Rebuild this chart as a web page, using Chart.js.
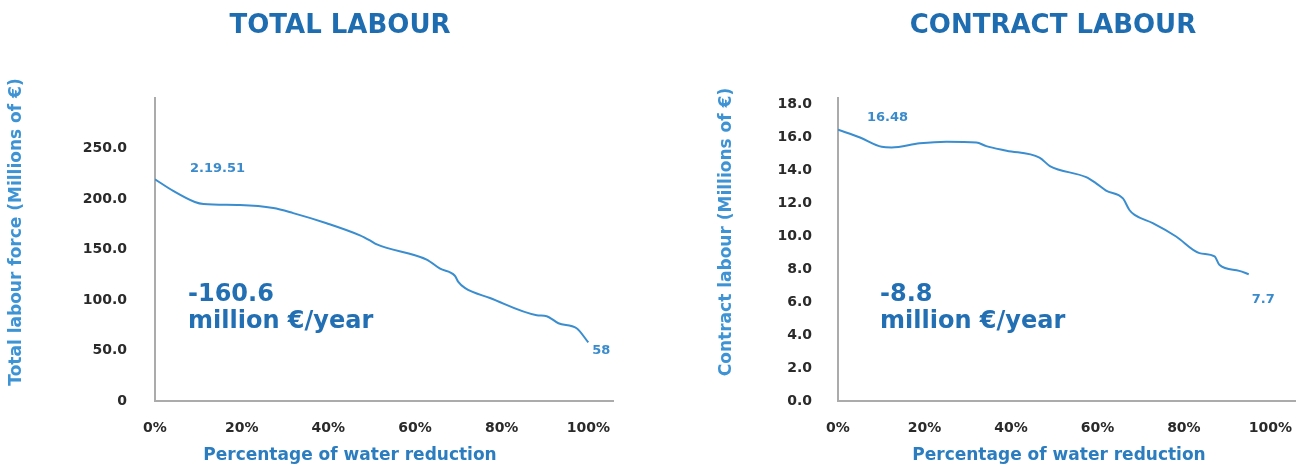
<!DOCTYPE html>
<html>
<head>
<meta charset="utf-8">
<script src="https://cdn.jsdelivr.net/npm/chart.js@4.4.1/dist/chart.umd.min.js"></script>
<style>
  html, body { margin: 0; padding: 0; background: #fff; }
  #wrap { position: relative; width: 1309px; height: 466px; }
  .panel { position: absolute; top: 0; height: 466px; }
</style>
</head>
<body>
<div id="wrap">
  <div class="panel" style="left:0;width:654px"><canvas id="total"></canvas></div>
  <div class="panel" style="left:654px;width:655px"><canvas id="contract"></canvas></div>
</div>
<script>
// labour cost (millions of €) against percentage of water reduction
const totalPct = [0, 4.2, 9.2, 11.2, 19.6, 27.3, 31.9, 39.6, 47.3, 49.6, 51.2, 62.7, 65.8, 69.2, 70, 71.5, 77.3, 88.1, 90.4, 93.1, 97.3, 100];
const totalLabour = [219.51, 208, 197, 195, 194, 191, 186, 176, 164, 159, 155, 140, 131, 124, 118, 112, 102, 85, 84, 77, 72, 58];

const contractPct = [0, 5.1, 10.1, 12.4, 18.9, 25.1, 32, 34.3, 39, 46.6, 49, 57.4, 59.7, 62, 65.9, 67.4, 68.6, 72.8, 78.2, 83.6, 87.1, 88.2, 92.8, 95];
const contractLabour = [16.48, 16.0, 15.44, 15.4, 15.65, 15.75, 15.7, 15.48, 15.2, 14.78, 14.27, 13.59, 13.22, 12.78, 12.3, 11.6, 11.3, 10.8, 9.99, 8.98, 8.78, 8.27, 7.9, 7.7];

const xTicks = [0, 20, 40, 60, 80, 100];
const totalTicks = [0, 50, 100, 150, 200, 250];
const contractTicks = [0, 2, 4, 6, 8, 10, 12, 14, 16, 18];

const FONT = '"DejaVu Sans", sans-serif';

// headings, axis titles, end values and the yearly change
const panelText = {
    id: 'panelText',
    afterDraw(chart, args, o) {
        const ctx = chart.ctx;
        const a = chart.chartArea;
        const xs = chart.scales.x, ys = chart.scales.y;
        const pts = chart.data.datasets[0].data;
        const first = pts[0], last = pts[pts.length - 1];

        ctx.save();
        ctx.textBaseline = 'middle';
        ctx.textAlign = 'center';

        ctx.fillStyle = '#1f6db1';
        ctx.font = 'bold 26px ' + FONT;
        ctx.fillText(o.title, o.titleX, 26);

        ctx.fillStyle = '#2b7dc0';
        ctx.font = 'bold 17px ' + FONT;
        ctx.fillText(o.xTitle, o.xTitleX, 456);

        ctx.save();
        ctx.translate(o.yTitleX, 232);
        ctx.rotate(-Math.PI / 2);
        ctx.fillStyle = '#3d93d4';
        ctx.font = 'bold 17px ' + FONT;
        ctx.fillText(o.yTitle, 0, 0);
        ctx.restore();

        ctx.textAlign = 'left';
        ctx.fillStyle = '#3a8bcc';
        ctx.font = 'bold 13px ' + FONT;
        ctx.fillText(o.startLabel, xs.getPixelForValue(first.x) + o.startDx, ys.getPixelForValue(first.y) + o.startDy);
        ctx.fillText(o.endLabel, xs.getPixelForValue(last.x) + o.endDx, ys.getPixelForValue(last.y) + o.endDy);

        ctx.fillStyle = '#2270b3';
        ctx.font = 'bold 24px ' + FONT;
        ctx.fillText(o.change, a.left + o.changeDx, 295);
        ctx.fillText('million €/year', a.left + o.changeDx, 322);
        ctx.restore();
    }
};

function makeChart(id, pct, values, cfg) {
    return new Chart(document.getElementById(id), {
        type: 'line',
        data: {
            datasets: [{
                data: pct.map((p, i) => ({ x: p, y: values[i] })),
                borderColor: '#3a8dcf',
                borderWidth: 2,
                pointRadius: 0,
                cubicInterpolationMode: 'monotone',
                fill: false
            }]
        },
        options: {
            responsive: true,
            maintainAspectRatio: false,
            animation: false,
            events: [],
            layout: { padding: { top: 98, right: cfg.padRight, left: 0, bottom: 0 } },
            scales: {
                x: {
                    type: 'linear',
                    min: 0,
                    max: 105.7,
                    grid: { display: false },
                    border: { display: true, color: '#ababab', width: 2 },
                    afterBuildTicks: s => { s.ticks = xTicks.map(v => ({ value: v })); },
                    afterFit: s => { s.height = 65; },
                    ticks: {
                        autoSkip: false,
                        maxRotation: 0,
                        padding: 11,
                        color: '#2a2a2a',
                        font: { family: FONT, size: 14, weight: 'bold' },
                        callback: v => v + '%'
                    }
                },
                y: {
                    min: 0,
                    max: cfg.yMax,
                    grid: { display: false },
                    border: { display: true, color: '#ababab', width: 2 },
                    afterBuildTicks: s => { s.ticks = cfg.yTicks.map(v => ({ value: v })); },
                    afterFit: s => { s.width = cfg.axisX; },
                    ticks: {
                        autoSkip: false,
                        padding: cfg.tickPad,
                        color: '#2a2a2a',
                        font: { family: FONT, size: 14, weight: 'bold' },
                        callback: cfg.tickFormat
                    }
                }
            },
            plugins: {
                legend: { display: false },
                tooltip: { enabled: false },
                panelText: cfg.text
            }
        },
        plugins: [panelText]
    });
}

makeChart('total', totalPct, totalLabour, {
    yMax: 300,
    yTicks: totalTicks,
    axisX: 155,
    padRight: 41,
    tickPad: 20,
    tickFormat: v => v === 0 ? '0' : v.toFixed(1),
    text: {
        title: 'TOTAL LABOUR', titleX: 340,
        xTitle: 'Percentage of water reduction', xTitleX: 350,
        yTitle: 'Total labour force (Millions of €)', yTitleX: 17,
        startLabel: '2.19.51', startDx: 35, startDy: -11,
        endLabel: String(totalLabour[totalLabour.length - 1]), endDx: 4, endDy: 8,
        change: '-160.6', changeDx: 33
    }
});

makeChart('contract', contractPct, contractLabour, {
    yMax: 18.4,
    yTicks: contractTicks,
    axisX: 184,
    padRight: 14,
    tickPad: 18,
    tickFormat: v => v.toFixed(1),
    text: {
        title: 'CONTRACT LABOUR', titleX: 399,
        xTitle: 'Percentage of water reduction', xTitleX: 405,
        yTitle: 'Contract labour (Millions of €)', yTitleX: 73,
        startLabel: contractLabour[0].toFixed(2), startDx: 29, startDy: -12,
        endLabel: contractLabour[contractLabour.length - 1].toFixed(1), endDx: 3, endDy: 25,
        change: '-8.8', changeDx: 42
    }
});
</script>
</body>
</html>
